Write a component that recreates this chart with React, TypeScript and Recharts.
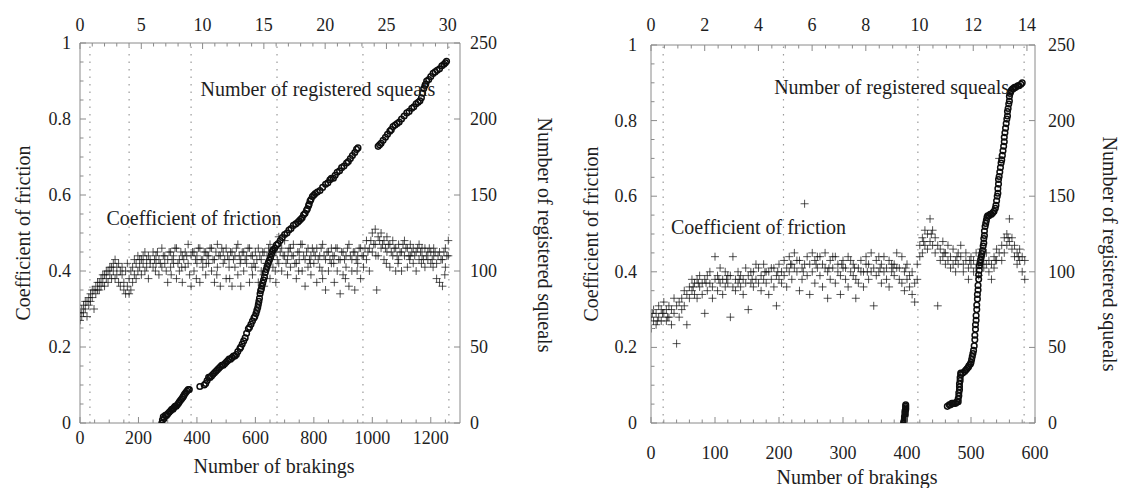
import { ScatterChart, Scatter, XAxis, YAxis, ReferenceLine, ReferenceDot } from "recharts";

const FONT = '"Liberation Serif", "DejaVu Serif", "Noto Serif", serif';

// ---- left panel: [brakings, coefficient of friction]
const frictionA: [number, number][] = [
  [0, 0.29], [0, 0.27], [6, 0.3], [6, 0.28], [12, 0.31], [12, 0.29], [18, 0.3], [18, 0.32], [24, 0.32], [24, 0.28],
  [30, 0.33], [30, 0.31], [36, 0.34], [36, 0.32], [42, 0.33], [42, 0.35], [48, 0.35], [48, 0.3], [54, 0.36], [54, 0.34],
  [60, 0.35], [60, 0.37], [66, 0.37], [66, 0.35], [72, 0.38], [72, 0.36], [78, 0.37], [78, 0.39], [84, 0.39], [84, 0.36],
  [90, 0.38], [90, 0.4], [96, 0.4], [96, 0.37], [102, 0.39], [102, 0.41], [108, 0.41], [108, 0.38], [114, 0.4], [114, 0.42],
  [120, 0.38], [120, 0.43], [126, 0.41], [126, 0.39], [132, 0.42], [132, 0.37], [138, 0.4], [138, 0.36], [144, 0.39], [144, 0.41],
  [150, 0.37], [150, 0.35], [156, 0.4], [156, 0.34], [162, 0.36], [162, 0.42], [168, 0.38], [168, 0.34], [174, 0.4], [174, 0.35],
  [180, 0.41], [180, 0.37], [186, 0.43], [186, 0.39], [192, 0.42], [192, 0.38], [198, 0.44], [198, 0.4], [204, 0.41], [204, 0.43],
  [210, 0.43], [210, 0.39], [216, 0.42], [216, 0.44], [222, 0.45], [222, 0.4], [228, 0.41], [228, 0.43], [234, 0.44], [234, 0.38],
  [240, 0.43], [240, 0.42], [250, 0.45], [250, 0.41], [255, 0.43], [260, 0.42], [260, 0.44], [265, 0.45], [270, 0.43], [270, 0.39],
  [275, 0.42], [280, 0.46], [280, 0.41], [285, 0.44], [290, 0.44], [290, 0.42], [295, 0.4], [300, 0.43], [300, 0.37], [305, 0.45],
  [310, 0.45], [310, 0.41], [315, 0.43], [320, 0.42], [320, 0.44], [325, 0.46], [330, 0.46], [330, 0.38], [335, 0.42], [340, 0.43],
  [340, 0.4], [345, 0.45], [350, 0.44], [350, 0.37], [355, 0.43], [360, 0.41], [360, 0.45], [365, 0.44], [370, 0.47], [370, 0.42],
  [375, 0.39], [380, 0.44], [380, 0.36], [385, 0.45], [390, 0.45], [390, 0.4], [395, 0.43], [400, 0.42], [400, 0.44], [405, 0.46],
  [410, 0.46], [410, 0.37], [415, 0.43], [420, 0.43], [420, 0.41], [425, 0.45], [430, 0.45], [430, 0.39], [435, 0.44], [440, 0.44],
  [440, 0.42], [445, 0.46], [450, 0.4], [450, 0.46], [455, 0.43], [460, 0.43], [460, 0.37], [465, 0.45], [470, 0.47], [470, 0.41],
  [475, 0.44], [480, 0.44], [480, 0.36], [485, 0.46], [490, 0.42], [490, 0.45], [495, 0.43], [500, 0.46], [500, 0.38], [505, 0.44],
  [510, 0.43], [510, 0.41], [515, 0.45], [520, 0.45], [520, 0.36], [525, 0.43], [530, 0.41], [530, 0.44], [535, 0.46], [540, 0.47],
  [540, 0.39], [545, 0.44], [550, 0.43], [550, 0.36], [555, 0.45], [560, 0.45], [560, 0.4], [565, 0.43], [570, 0.42], [570, 0.44],
  [575, 0.46], [580, 0.46], [580, 0.37], [585, 0.44], [590, 0.44], [590, 0.39], [595, 0.42], [600, 0.41], [600, 0.45], [605, 0.43],
  [610, 0.46], [610, 0.37], [615, 0.44], [620, 0.43], [620, 0.4], [625, 0.45], [630, 0.45], [630, 0.36], [635, 0.42], [640, 0.42],
  [640, 0.44], [645, 0.46], [650, 0.47], [650, 0.38], [655, 0.43], [660, 0.44], [660, 0.41], [665, 0.46], [670, 0.45], [670, 0.37],
  [675, 0.43], [680, 0.49], [680, 0.42], [685, 0.45], [690, 0.46], [690, 0.4], [695, 0.44], [700, 0.48], [700, 0.44], [705, 0.42],
  [710, 0.43], [710, 0.39], [715, 0.46], [720, 0.46], [720, 0.41], [725, 0.44], [730, 0.44], [730, 0.47], [735, 0.42], [740, 0.42],
  [740, 0.38], [745, 0.45], [750, 0.45], [750, 0.43], [755, 0.47], [760, 0.47], [760, 0.4], [765, 0.44], [770, 0.43], [770, 0.36],
  [775, 0.45], [780, 0.46], [780, 0.41], [785, 0.43], [790, 0.44], [790, 0.39], [795, 0.46], [800, 0.42], [800, 0.45], [805, 0.44],
  [810, 0.46], [810, 0.37], [815, 0.43], [820, 0.44], [820, 0.41], [825, 0.46], [830, 0.47], [830, 0.38], [835, 0.44], [840, 0.43],
  [840, 0.35], [845, 0.45], [850, 0.45], [850, 0.4], [855, 0.43], [860, 0.42], [860, 0.46], [865, 0.44], [870, 0.44], [870, 0.37],
  [875, 0.46], [880, 0.46], [880, 0.4], [885, 0.43], [890, 0.43], [890, 0.34], [895, 0.45], [900, 0.45], [900, 0.39], [905, 0.43],
  [910, 0.41], [910, 0.44], [915, 0.46], [920, 0.47], [920, 0.36], [925, 0.44], [930, 0.43], [930, 0.4], [935, 0.45], [940, 0.45],
  [940, 0.35], [945, 0.43], [950, 0.42], [950, 0.44], [955, 0.46], [960, 0.46], [960, 0.38], [965, 0.44], [970, 0.44], [970, 0.41],
  [975, 0.46], [980, 0.48], [980, 0.43], [985, 0.45], [990, 0.46], [990, 0.4], [995, 0.48], [1000, 0.5], [1000, 0.45], [1005, 0.47],
  [1010, 0.51], [1010, 0.47], [1015, 0.35], [1020, 0.49], [1020, 0.44], [1025, 0.48], [1030, 0.5], [1030, 0.46], [1035, 0.47], [1040, 0.48],
  [1040, 0.43], [1045, 0.46], [1050, 0.49], [1050, 0.45], [1055, 0.47], [1060, 0.47], [1060, 0.41], [1065, 0.45], [1070, 0.48], [1070, 0.44],
  [1075, 0.46], [1080, 0.46], [1080, 0.4], [1085, 0.44], [1090, 0.47], [1090, 0.43], [1095, 0.45], [1100, 0.45], [1100, 0.4], [1105, 0.47],
  [1110, 0.48], [1110, 0.44], [1115, 0.46], [1120, 0.46], [1120, 0.41], [1125, 0.44], [1130, 0.44], [1130, 0.47], [1135, 0.45], [1140, 0.46],
  [1140, 0.42], [1145, 0.44], [1150, 0.45], [1150, 0.4], [1155, 0.46], [1160, 0.47], [1160, 0.43], [1165, 0.45], [1170, 0.44], [1170, 0.46],
  [1175, 0.43], [1180, 0.46], [1180, 0.41], [1185, 0.44], [1190, 0.43], [1190, 0.45], [1195, 0.46], [1200, 0.45], [1200, 0.42], [1205, 0.43],
  [1210, 0.44], [1210, 0.46], [1215, 0.45], [1220, 0.42], [1220, 0.38], [1225, 0.44], [1230, 0.45], [1230, 0.37], [1235, 0.43], [1240, 0.43],
  [1240, 0.36], [1245, 0.45], [1250, 0.46], [1250, 0.41], [1255, 0.44], [1260, 0.44], [1260, 0.48],
  // extra readings in the dense band
  [258, 0.4], [312, 0.39], [348, 0.41], [398, 0.38], [432, 0.42], [468, 0.39], [512, 0.38], [548, 0.42], [588, 0.41],
  [628, 0.39], [668, 0.4], [712, 0.45], [748, 0.4], [788, 0.42], [828, 0.4], [868, 0.42], [908, 0.38], [948, 0.4],
  [1012, 0.44], [1048, 0.42], [1088, 0.42], [1128, 0.43], [1168, 0.42], [1208, 0.41], [1248, 0.39],
];

// left panel: [brakings, number of registered squeals]
const squealsA: [number, number][] = [
  [280, 0], [282, 2], [285, 4], [288, 3], [292, 5], [296, 5], [300, 6], [305, 7], [310, 8], [314, 9],
  [318, 9], [321, 10], [325, 11], [329, 11], [333, 12], [337, 13], [340, 14], [344, 15], [348, 16], [352, 17],
  [355, 18], [358, 19], [362, 20], [366, 21], [370, 22], [374, 22], [410, 24], [425, 25], [430, 26], [435, 28],
  [440, 30], [445, 30], [450, 31], [455, 32], [460, 33], [465, 34], [470, 35], [475, 36], [480, 37], [485, 38],
  [490, 38], [495, 39], [500, 40], [505, 41], [510, 42], [515, 42], [520, 43], [525, 44], [530, 44], [535, 45],
  [540, 47], [547, 49], [550, 50], [555, 52], [560, 54], [565, 56], [570, 59], [576, 62], [580, 63], [585, 65],
  [590, 67], [595, 69], [598, 70], [602, 72], [605, 74], [608, 76], [610, 78], [612, 80], [614, 82], [616, 85],
  [618, 87], [620, 88], [622, 90], [625, 92], [628, 94], [631, 96], [634, 99], [637, 101], [640, 103], [644, 105],
  [648, 107], [652, 109], [655, 111], [658, 113], [661, 114], [666, 115], [672, 117], [678, 118], [685, 120], [692, 122],
  [700, 124], [708, 125], [715, 127], [722, 128], [730, 130], [738, 131], [745, 132], [750, 133], [755, 134], [760, 135],
  [765, 137], [770, 138], [775, 140], [778, 141], [782, 143], [784, 144], [787, 146], [790, 147], [795, 149], [800, 150],
  [805, 151], [812, 152], [821, 153], [830, 155], [840, 157], [848, 158], [855, 160], [860, 161], [867, 161], [873, 163],
  [880, 165], [888, 166], [895, 168], [903, 169], [912, 171], [918, 172], [925, 174], [932, 176], [940, 178], [946, 180],
  [951, 181], [1020, 182], [1025, 183], [1030, 184], [1037, 186], [1045, 188], [1052, 190], [1060, 192], [1065, 193], [1071, 195],
  [1078, 196], [1085, 197], [1092, 198], [1100, 200], [1109, 202], [1118, 204], [1126, 205], [1135, 207], [1142, 208], [1150, 210],
  [1157, 211], [1163, 212], [1168, 214], [1172, 217], [1176, 220], [1180, 222], [1183, 223], [1186, 225], [1193, 226], [1200, 228],
  [1208, 230], [1215, 231], [1222, 232], [1230, 233], [1238, 235], [1245, 236], [1250, 237], [1254, 238],
];

// test phase boundaries (dotted verticals)
const phasesA = [34, 168, 380, 674, 968, 1262];

// ---- right panel
const frictionB: [number, number][] = [
  [0, 0.28], [0, 0.25], [4, 0.27], [4, 0.3], [8, 0.29], [8, 0.26], [12, 0.28], [12, 0.31], [16, 0.3], [16, 0.27],
  [20, 0.29], [20, 0.32], [24, 0.27], [24, 0.3], [28, 0.31], [28, 0.28], [32, 0.3], [32, 0.26], [36, 0.29], [36, 0.33],
  [40, 0.21], [40, 0.31], [44, 0.32], [44, 0.28], [48, 0.33], [48, 0.3], [52, 0.31], [52, 0.35], [56, 0.34], [56, 0.26],
  [60, 0.36], [60, 0.33], [64, 0.35], [64, 0.38], [68, 0.37], [68, 0.34], [72, 0.38], [72, 0.33], [76, 0.36], [76, 0.39],
  [80, 0.34], [80, 0.37], [84, 0.38], [84, 0.29], [88, 0.39], [88, 0.35], [92, 0.37], [92, 0.4], [96, 0.36], [96, 0.33],
  [100, 0.44], [100, 0.38], [104, 0.39], [104, 0.35], [108, 0.41], [108, 0.37], [112, 0.38], [112, 0.34], [116, 0.4], [116, 0.36],
  [120, 0.37], [120, 0.39], [124, 0.39], [124, 0.28], [128, 0.44], [128, 0.36], [132, 0.38], [132, 0.35], [136, 0.4], [136, 0.37],
  [140, 0.36], [140, 0.39], [144, 0.38], [144, 0.34], [148, 0.41], [148, 0.37], [152, 0.39], [152, 0.3], [156, 0.37], [156, 0.4],
  [160, 0.4], [160, 0.36], [164, 0.38], [164, 0.42], [168, 0.41], [168, 0.37], [172, 0.39], [172, 0.35], [176, 0.42], [176, 0.38],
  [180, 0.37], [180, 0.4], [184, 0.4], [184, 0.34], [188, 0.38], [188, 0.41], [192, 0.41], [192, 0.36], [196, 0.39], [196, 0.31],
  [200, 0.42], [200, 0.38], [204, 0.4], [204, 0.37], [208, 0.43], [208, 0.39], [212, 0.41], [212, 0.36], [216, 0.44], [216, 0.4],
  [220, 0.42], [220, 0.38], [224, 0.45], [224, 0.41], [228, 0.4], [228, 0.43], [232, 0.43], [232, 0.35], [236, 0.41], [236, 0.38],
  [240, 0.58], [240, 0.42], [244, 0.44], [244, 0.39], [248, 0.42], [248, 0.34], [252, 0.45], [252, 0.4], [256, 0.43], [256, 0.37],
  [260, 0.41], [260, 0.44], [264, 0.44], [264, 0.39], [268, 0.42], [268, 0.36], [272, 0.45], [272, 0.41], [276, 0.4], [276, 0.33],
  [280, 0.43], [280, 0.38], [284, 0.41], [284, 0.44], [288, 0.44], [288, 0.37], [292, 0.42], [292, 0.4], [296, 0.39], [296, 0.34],
  [300, 0.43], [300, 0.41], [304, 0.41], [304, 0.38], [308, 0.44], [308, 0.36], [312, 0.4], [312, 0.43], [316, 0.42], [316, 0.39],
  [320, 0.38], [320, 0.33], [324, 0.41], [324, 0.37], [328, 0.43], [328, 0.4], [332, 0.4], [332, 0.36], [336, 0.44], [336, 0.42],
  [340, 0.42], [340, 0.38], [344, 0.45], [344, 0.4], [348, 0.41], [348, 0.31], [352, 0.43], [352, 0.39], [356, 0.4], [356, 0.44],
  [360, 0.42], [360, 0.37], [364, 0.44], [364, 0.4], [368, 0.41], [368, 0.38], [372, 0.43], [372, 0.36], [376, 0.4], [376, 0.42],
  [380, 0.42], [380, 0.39], [384, 0.45], [384, 0.41], [388, 0.41], [388, 0.38], [392, 0.44], [392, 0.37], [396, 0.4], [396, 0.35],
  [400, 0.42], [400, 0.38], [404, 0.39], [404, 0.36], [408, 0.34], [408, 0.4], [412, 0.32], [412, 0.37], [416, 0.38], [416, 0.42],
  [420, 0.47], [420, 0.44], [424, 0.49], [424, 0.45], [428, 0.51], [428, 0.47], [432, 0.5], [432, 0.46], [436, 0.54], [436, 0.48],
  [440, 0.51], [440, 0.47], [444, 0.49], [444, 0.45], [448, 0.31], [448, 0.47], [452, 0.46], [452, 0.43], [456, 0.48], [456, 0.44],
  [460, 0.45], [460, 0.42], [464, 0.47], [464, 0.43], [468, 0.44], [468, 0.41], [472, 0.46], [472, 0.42], [476, 0.43], [476, 0.4],
  [480, 0.45], [480, 0.42], [484, 0.44], [484, 0.47], [488, 0.42], [488, 0.4], [492, 0.45], [492, 0.43], [496, 0.41], [496, 0.38],
  [500, 0.44], [500, 0.42], [504, 0.43], [504, 0.4], [508, 0.45], [508, 0.41], [512, 0.42], [512, 0.39], [516, 0.44], [516, 0.46],
  [520, 0.41], [520, 0.43], [524, 0.45], [524, 0.42], [528, 0.43], [528, 0.4], [532, 0.42], [532, 0.38], [536, 0.44], [536, 0.41],
  [540, 0.46], [540, 0.43], [544, 0.7], [544, 0.45], [548, 0.47], [548, 0.43], [552, 0.49], [552, 0.45], [556, 0.5], [556, 0.47],
  [560, 0.54], [560, 0.48], [564, 0.49], [564, 0.46], [568, 0.47], [568, 0.44], [572, 0.45], [572, 0.42], [576, 0.46], [576, 0.43],
  [580, 0.44], [580, 0.4], [584, 0.43], [584, 0.38],
  // extra readings in the dense band
  [2, 0.29], [10, 0.27], [18, 0.29], [26, 0.28], [66, 0.36], [74, 0.37], [86, 0.37], [106, 0.38], [118, 0.38], [138, 0.38],
  [158, 0.38], [178, 0.4], [198, 0.4], [218, 0.42], [238, 0.4], [258, 0.42], [278, 0.41], [298, 0.42], [318, 0.41],
  [338, 0.4], [358, 0.41], [378, 0.41], [398, 0.41], [426, 0.48], [438, 0.5], [458, 0.45], [478, 0.44], [498, 0.43],
  [518, 0.42], [538, 0.43], [558, 0.49], [574, 0.44],
];

const squealsB: [number, number][] = [
  [395, 0], [395, 1], [396, 2], [396, 3], [396, 4], [397, 5], [397, 6], [397, 7], [397, 8], [398, 9], [398, 10], [398, 11], [398, 12],
  [463, 11], [466, 12], [468, 12], [470, 13], [472, 13], [474, 13], [476, 13], [478, 14], [480, 14], [480, 16], [481, 18], [481, 20],
  [482, 22], [482, 24], [482, 26], [483, 28], [483, 30], [484, 32], [484, 33], [487, 33], [490, 34], [492, 35], [494, 36], [496, 37],
  [497, 38], [499, 39], [500, 40], [501, 42], [502, 44], [503, 46], [504, 48], [505, 51], [506, 55], [506, 58], [507, 62], [507, 65],
  [508, 68], [508, 71], [509, 75], [509, 78], [510, 82], [510, 85], [511, 88], [511, 91], [512, 95], [512, 98], [513, 101], [513, 104],
  [514, 106], [515, 108], [516, 110], [517, 112], [518, 114], [519, 117], [520, 119], [520, 122], [521, 124], [521, 127], [522, 130],
  [523, 132], [524, 134], [525, 136], [526, 137], [528, 137], [530, 138], [532, 138], [534, 139], [536, 140], [538, 142], [539, 144],
  [540, 147], [541, 150], [542, 152], [542, 155], [543, 158], [543, 161], [544, 163], [545, 166], [546, 169], [547, 172], [548, 174],
  [549, 177], [550, 180], [551, 183], [552, 186], [552, 189], [553, 192], [554, 195], [555, 198], [556, 201], [557, 203], [557, 206],
  [558, 208], [559, 211], [560, 213], [560, 216], [561, 218], [562, 219], [563, 220], [565, 221], [566, 221], [568, 222], [570, 222],
  [573, 223], [575, 223], [578, 224], [580, 225],
];

const phasesB = [19, 207, 417, 583];

// ---- ticks
const frictionTicks = [0, 0.2, 0.4, 0.6, 0.8, 1];
const frictionMinor = [0.05, 0.1, 0.15, 0.25, 0.3, 0.35, 0.45, 0.5, 0.55, 0.65, 0.7, 0.75, 0.85, 0.9, 0.95];
const squealTicks = [0, 50, 100, 150, 200, 250];

const brakingTicksA = [0, 200, 400, 600, 800, 1000, 1200];
const brakingMinorA = [50, 100, 150, 250, 300, 350, 450, 500, 550, 650, 700, 750, 850, 900, 950, 1050, 1100, 1150, 1250];
const hourTicksA = [0, 5, 10, 15, 20, 25, 30];
const hourMinorA = [1, 2, 3, 4, 6, 7, 8, 9, 11, 12, 13, 14, 16, 17, 18, 19, 21, 22, 23, 24, 26, 27, 28, 29];

const brakingTicksB = [0, 100, 200, 300, 400, 500, 600];
const brakingMinorB = [20, 40, 60, 80, 120, 140, 160, 180, 220, 240, 260, 280, 320, 340, 360, 380, 420, 440, 460, 480, 520, 540, 560, 580];
const hourTicksB = [0, 2, 4, 6, 8, 10, 12, 14];
const hourMinorB = [0.5, 1, 1.5, 2.5, 3, 3.5, 4.5, 5, 5.5, 6.5, 7, 7.5, 8.5, 9, 9.5, 10.5, 11, 11.5, 12.5, 13, 13.5];

const AXIS = "#8a8a8a";
const INK = "#1e1e1e";

function Cross(props: any) {
  const { cx, cy } = props;
  if (cx == null || cy == null) return null;
  return (
    <path
      d={`M${cx - 4},${cy}h8M${cx},${cy - 4}v8`}
      stroke="#111"
      strokeOpacity={0.72}
      strokeWidth={1}
      fill="none"
    />
  );
}

function Ring(props: any) {
  const { cx, cy } = props;
  if (cx == null || cy == null) return null;
  return <circle cx={cx} cy={cy} r={2.8} fill="none" stroke="#0d0d0d" strokeWidth={1.5} />;
}

// the top (time) axis needs a bound series to be laid out; it draws nothing
function Nothing() {
  return <g />;
}

// tick drawn inward from the axis line; labels only on major values
function makeTick(side: "left" | "right" | "top" | "bottom", majors: number[], gap: number) {
  return (p: any) => {
    const { x, y, payload } = p;
    const v = payload.value;
    const major = majors.includes(v);
    const len = major ? 6 : 3.5;
    let line;
    let text = null;
    const common = { fontSize: 18, fontFamily: FONT, fill: INK };
    if (side === "left") {
      line = <line x1={x} y1={y} x2={x + len} y2={y} stroke={AXIS} />;
      if (major) text = <text x={x - gap} y={y} textAnchor="end" dominantBaseline="central" {...common}>{v}</text>;
    } else if (side === "right") {
      line = <line x1={x} y1={y} x2={x - len} y2={y} stroke={AXIS} />;
      if (major) text = <text x={x + gap} y={y} textAnchor="start" dominantBaseline="central" {...common}>{v}</text>;
    } else if (side === "top") {
      line = <line x1={x} y1={y} x2={x} y2={y + len} stroke={AXIS} />;
      if (major) text = <text x={x} y={y - gap} textAnchor="middle" dominantBaseline="central" {...common}>{v}</text>;
    } else {
      line = <line x1={x} y1={y} x2={x} y2={y - len} stroke={AXIS} />;
      if (major) text = <text x={x} y={y + gap} textAnchor="middle" dominantBaseline="central" {...common}>{v}</text>;
    }
    return (
      <g>
        {line}
        {text}
      </g>
    );
  };
}

const titleStyle = { fontSize: 20, fontFamily: FONT, fill: INK };

type PanelProps = {
  width: number;
  leftW: number;
  rightW: number;
  topH: number;
  bottomH: number;
  friction: [number, number][];
  squeals: [number, number][];
  phases: number[];
  bMax: number;
  bTicks: number[];
  bMinor: number[];
  hMax: number;
  hTicks: number[];
  hMinor: number[];
  gapLeft: number;
  gapRight: number;
  gapTop: number;
  gapBottom: number;
  leftTitleDx: number;
  rightTitleDx: number;
  rightTitleDy: number;
  bottomTitleDx: number;
  bottomTitleDy: number;
  squealNote: [number, number];
  frictionNote: [number, number];
};

function Panel(p: PanelProps) {
  const fr = p.friction.map(([b, f]) => ({ b, f }));
  const sq = p.squeals.map(([b, s]) => ({ b, s }));
  return (
    <ScatterChart
      width={p.width}
      height={488}
      margin={{ top: 0, right: 0, bottom: 0, left: 0 }}
      style={{ fontFamily: FONT }}
    >
      <XAxis
        xAxisId="b"
        dataKey="b"
        type="number"
        orientation="bottom"
        domain={[0, p.bMax]}
        allowDataOverflow
        ticks={[...p.bTicks, ...p.bMinor]}
        interval={0}
        height={p.bottomH}
        stroke={AXIS}
        tickSize={0}
        tickMargin={0}
        tick={makeTick("bottom", p.bTicks, p.gapBottom)}
        label={{ value: "Number of brakings", position: "center", dx: p.bottomTitleDx, dy: p.bottomTitleDy, style: titleStyle }}
      />
      <XAxis
        xAxisId="h"
        dataKey="b"
        type="number"
        orientation="top"
        domain={[0, p.hMax]}
        allowDataOverflow
        ticks={[...p.hTicks, ...p.hMinor]}
        interval={0}
        height={p.topH}
        stroke={AXIS}
        tickSize={0}
        tickMargin={0}
        tick={makeTick("top", p.hTicks, p.gapTop)}
      />
      <YAxis
        yAxisId="f"
        dataKey="f"
        type="number"
        orientation="left"
        domain={[0, 1]}
        allowDataOverflow
        ticks={[...frictionTicks, ...frictionMinor]}
        interval={0}
        width={p.leftW}
        stroke={AXIS}
        tickSize={0}
        tickMargin={0}
        tick={makeTick("left", frictionTicks, p.gapLeft)}
        label={{ value: "Coefficient of friction", angle: -90, position: "center", dx: p.leftTitleDx, style: titleStyle }}
      />
      <YAxis
        yAxisId="s"
        dataKey="s"
        type="number"
        orientation="right"
        domain={[0, 250]}
        allowDataOverflow
        ticks={squealTicks}
        interval={0}
        width={p.rightW}
        stroke={AXIS}
        tickSize={0}
        tickMargin={0}
        tick={makeTick("right", squealTicks, p.gapRight)}
        label={{
          value: "Number of registered squeals",
          angle: 90,
          position: "center",
          dx: p.rightTitleDx,
          dy: p.rightTitleDy,
          style: titleStyle,
        }}
      />
      {p.phases.map((x) => (
        <ReferenceLine key={x} x={x} xAxisId="b" yAxisId="f" stroke="#9a9a9a" strokeDasharray="1.5 6" strokeWidth={1.2} />
      ))}
      <Scatter data={fr} xAxisId="h" yAxisId="f" shape={Nothing} legendType="none" isAnimationActive={false} />
      <Scatter data={fr} xAxisId="b" yAxisId="f" shape={Cross} isAnimationActive={false} />
      <Scatter data={sq} xAxisId="b" yAxisId="s" shape={Ring} isAnimationActive={false} />
      <ReferenceDot
        x={p.squealNote[0]}
        y={p.squealNote[1]}
        xAxisId="b"
        yAxisId="f"
        r={1}
        fill="none"
        stroke="none"
        label={{ value: "Number of registered squeals", position: "center", style: titleStyle }}
      />
      <ReferenceDot
        x={p.frictionNote[0]}
        y={p.frictionNote[1]}
        xAxisId="b"
        yAxisId="f"
        r={1}
        fill="none"
        stroke="none"
        label={{ value: "Coefficient of friction", position: "center", style: titleStyle }}
      />
    </ScatterChart>
  );
}

export default function App() {
  return (
    <div style={{ position: "absolute", left: 0, top: 0, width: 1124, height: 488, background: "#fff", fontFamily: FONT }}>
      <div style={{ position: "absolute", left: 0, top: 0 }}>
        <Panel
          width={560}
          leftW={80}
          rightW={100}
          topH={43}
          bottomH={65}
          friction={frictionA}
          squeals={squealsA}
          phases={phasesA}
          bMax={1300}
          bTicks={brakingTicksA}
          bMinor={brakingMinorA}
          hMax={31}
          hTicks={hourTicksA}
          hMinor={hourMinorA}
          gapLeft={9}
          gapRight={10}
          gapTop={18}
          gapBottom={15}
          leftTitleDx={-17}
          rightTitleDx={35}
          rightTitleDy={2}
          bottomTitleDx={4}
          bottomTitleDy={10}
          squealNote={[814, 0.88]}
          frictionNote={[390, 0.54]}
        />
      </div>
      <div style={{ position: "absolute", left: 560, top: 0 }}>
        <Panel
          width={564}
          leftW={91}
          rightW={89}
          topH={45}
          bottomH={65}
          friction={frictionB}
          squeals={squealsB}
          phases={phasesB}
          bMax={600}
          bTicks={brakingTicksB}
          bMinor={brakingMinorB}
          hMax={14.3}
          hTicks={hourTicksB}
          hMinor={hourMinorB}
          gapLeft={14}
          gapRight={13}
          gapTop={20}
          gapBottom={30}
          leftTitleDx={-15}
          rightTitleDx={31}
          rightTitleDy={20}
          bottomTitleDx={14}
          bottomTitleDy={21}
          squealNote={[376, 0.89]}
          frictionNote={[168, 0.52]}
        />
      </div>
    </div>
  );
}
